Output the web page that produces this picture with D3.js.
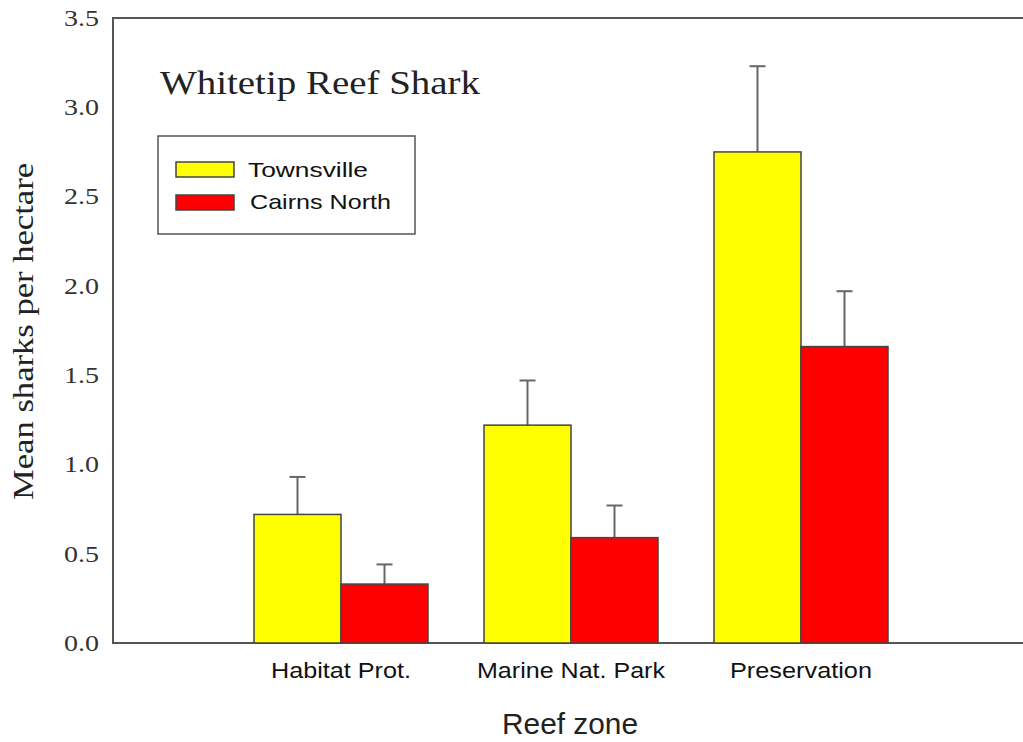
<!DOCTYPE html>
<html><head><meta charset="utf-8">
<script src="https://cdn.jsdelivr.net/npm/d3@7"></script>
<style>body{margin:0;background:#fff}svg{display:block}</style>
</head><body>
<script>
const categories = ["Habitat Prot.", "Marine Nat. Park", "Preservation"];
const seriesNames = ["Townsville", "Cairns North"];
const townsville = [0.72, 1.22, 2.75];
const townsvilleErr = [0.21, 0.25, 0.48];
const cairnsNorth = [0.33, 0.59, 1.66];
const cairnsNorthErr = [0.11, 0.18, 0.31];
const yTicks = [0.0, 0.5, 1.0, 1.5, 2.0, 2.5, 3.0, 3.5];
const colors = ["#ffff00", "#ff0000"];

(function () {
const W = 1023, H = 742;
const svg = d3.select("body").append("svg").attr("width", W).attr("height", H);
const pL = 113, pR = 1025, pT = 18, pB = 643;

const x = d3.scaleLinear().domain([0, 4]).range([111, 1031]);
const y = d3.scaleLinear().domain([0, 3.5]).range([pB, pT]);
const barW = 87;
const SERIF = "Liberation Serif, 'Times New Roman', serif";
const SANS = "Liberation Sans, Arial, sans-serif";

// frame
svg.append("path").attr("d", `M${pR},${pT}H${pL}V${pB}H${pR}`)
  .attr("fill", "none").attr("stroke", "#555").attr("stroke-width", 2);

// y tick labels
svg.append("g").selectAll("text").data(yTicks).join("text")
  .attr("x", 99).attr("y", d => y(d)).attr("dy", "0.34em")
  .attr("text-anchor", "end").attr("font-family", SERIF)
  .attr("font-size", 23).attr("fill", "#333")
  .attr("textLength", 35).attr("lengthAdjust", "spacingAndGlyphs")
  .text(d => d.toFixed(1));

const series = [
  {vals: townsville, err: townsvilleErr, off: -1},
  {vals: cairnsNorth, err: cairnsNorthErr, off: 0}
];
series.forEach((s, si) => {
  const g = svg.append("g");
  const cx = i => x(i + 1) + s.off * barW + barW / 2;
  g.selectAll("line.e").data(s.vals).join("line").attr("class", "e")
    .attr("x1", (d, i) => cx(i)).attr("x2", (d, i) => cx(i))
    .attr("y1", d => y(d)).attr("y2", (d, i) => y(d + s.err[i]))
    .attr("stroke", "#666").attr("stroke-width", 2);
  g.selectAll("line.c").data(s.vals).join("line").attr("class", "c")
    .attr("x1", (d, i) => cx(i) - 8).attr("x2", (d, i) => cx(i) + 8)
    .attr("y1", (d, i) => y(d + s.err[i])).attr("y2", (d, i) => y(d + s.err[i]))
    .attr("stroke", "#666").attr("stroke-width", 2);
  g.selectAll("rect").data(s.vals).join("rect")
    .attr("x", (d, i) => x(i + 1) + s.off * barW)
    .attr("y", d => y(d)).attr("width", barW).attr("height", d => pB - y(d))
    .attr("fill", colors[si]).attr("stroke", "#444").attr("stroke-width", 1.5);
});

// category labels
const catLen = [140, 188, 142];
svg.append("g").selectAll("text").data(categories).join("text")
  .attr("x", (d, i) => x(i + 1) - catLen[i] / 2).attr("y", 678)
  .attr("font-family", SANS).attr("font-size", 22)
  .attr("textLength", (d, i) => catLen[i]).attr("lengthAdjust", "spacingAndGlyphs")
  .attr("fill", "#111").text(d => d);

svg.append("text").attr("x", 502).attr("y", 734)
  .attr("font-family", SANS).attr("font-size", 29)
  .attr("textLength", 136).attr("lengthAdjust", "spacingAndGlyphs")
  .attr("fill", "#222").text("Reef zone");

svg.append("text").attr("transform", "translate(33,500) rotate(-90)")
  .attr("font-family", SERIF)
  .attr("font-size", 30).attr("fill", "#222")
  .attr("textLength", 337).attr("lengthAdjust", "spacingAndGlyphs")
  .text("Mean sharks per hectare");

svg.append("text").attr("x", 160).attr("y", 94)
  .attr("font-family", SERIF).attr("font-size", 33)
  .attr("textLength", 320).attr("lengthAdjust", "spacingAndGlyphs")
  .attr("fill", "#222").text("Whitetip Reef Shark");

// legend
const lg = svg.append("g");
lg.append("rect").attr("x", 158).attr("y", 136).attr("width", 257).attr("height", 98)
  .attr("fill", "#fff").attr("stroke", "#555").attr("stroke-width", 1.5);
const legLen = [120, 141];
seriesNames.forEach((n, i) => {
  lg.append("rect").attr("x", 176).attr("y", 162 + i * 33).attr("width", 58).attr("height", 15)
    .attr("fill", colors[i]).attr("stroke", "#444").attr("stroke-width", 1.5);
  lg.append("text").attr("x", 248 + i * 2).attr("y", 177 + i * 32)
    .attr("font-family", SANS).attr("font-size", 21)
    .attr("textLength", legLen[i]).attr("lengthAdjust", "spacingAndGlyphs")
    .attr("fill", "#111").text(n);
});
})();
</script>
</body></html>
